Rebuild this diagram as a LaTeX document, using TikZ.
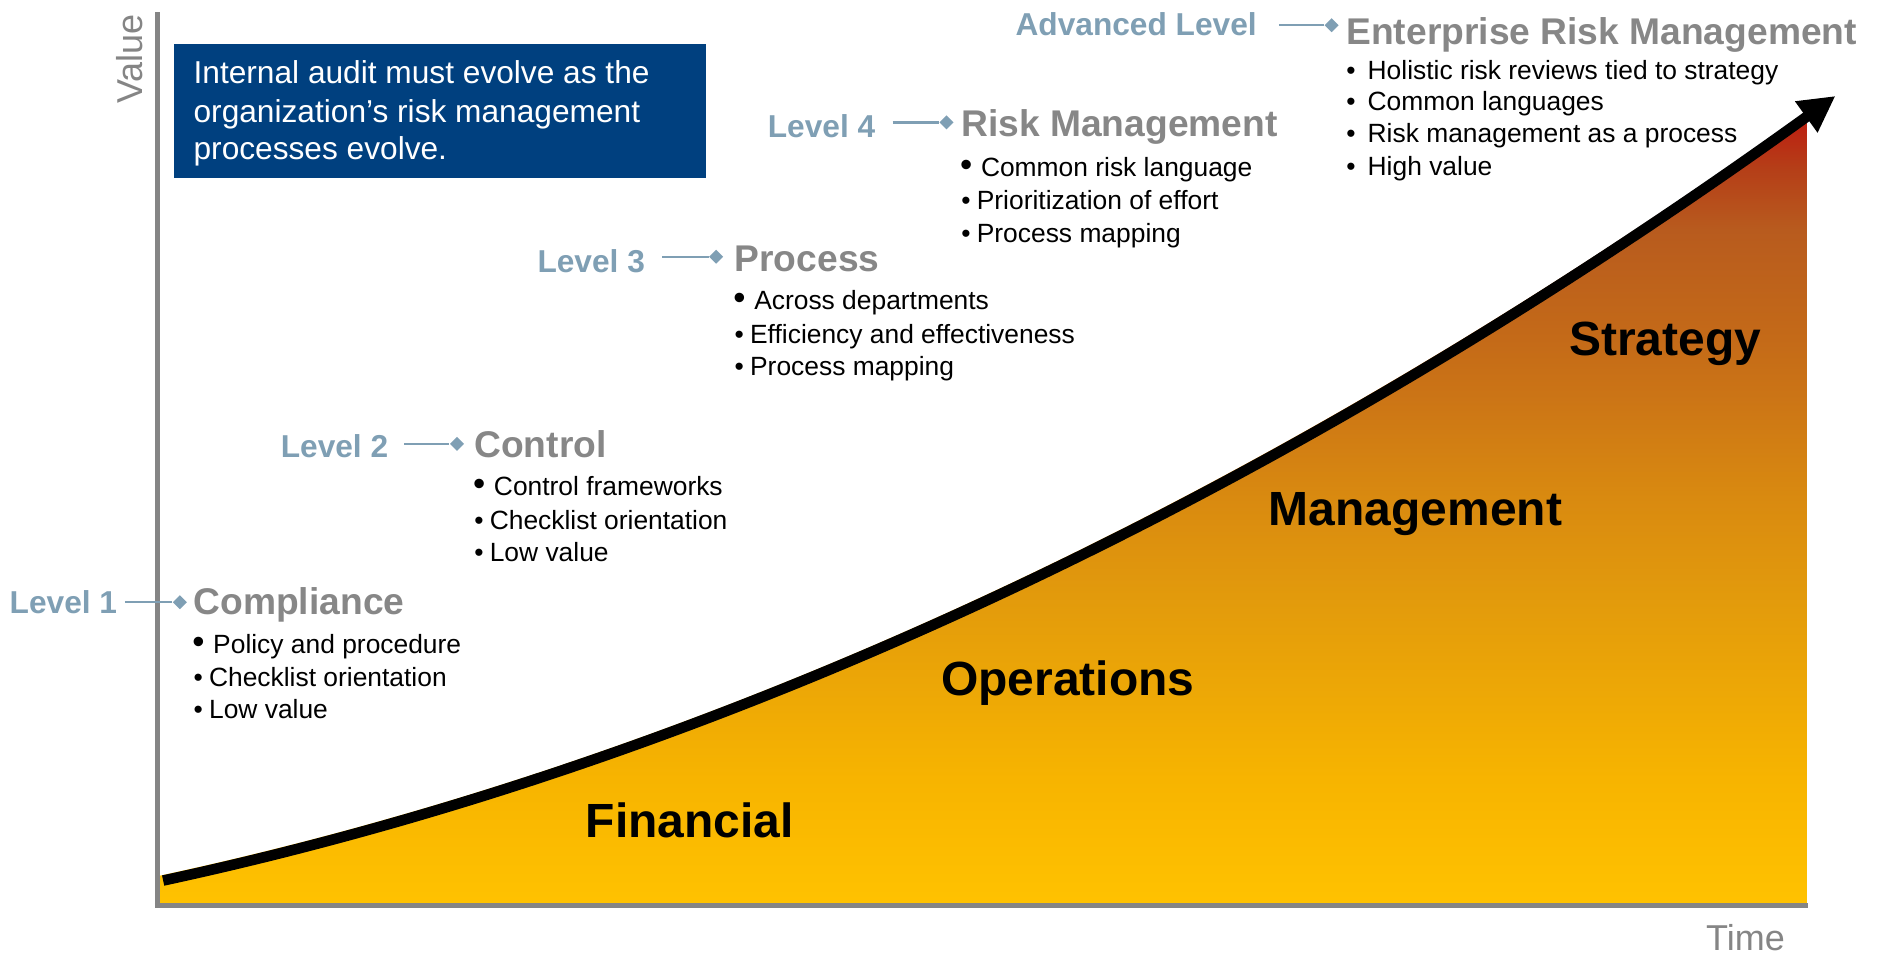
\documentclass[tikz,border=0pt]{standalone}
\usepackage{fontspec}
\setmainfont{Liberation Sans}
\usetikzlibrary{arrows.meta,shapes.geometric}
\definecolor{lvl}{HTML}{7F9FB4}
\definecolor{ttl}{HTML}{878787}
\definecolor{boxblue}{HTML}{00407F}
\definecolor{axisgray}{HTML}{858585}
\definecolor{cA}{HTML}{FFC200}
\definecolor{cB}{HTML}{F7B400}
\definecolor{cC}{HTML}{E29A0C}
\definecolor{cD}{HTML}{D98A10}
\definecolor{cE}{HTML}{CB7416}
\definecolor{cF}{HTML}{C46A18}
\definecolor{cG}{HTML}{B85B1E}
\definecolor{cH}{HTML}{B53E18}
\definecolor{cI}{HTML}{BB2512}
\definecolor{cJ}{HTML}{C41C0E}
\pgfdeclareverticalshading{riskshade}{100bp}{color(0bp)=(cA); color(25bp)=(cA); color(32.7bp)=(cB); color(44bp)=(cC); color(50bp)=(cD); color(56.4bp)=(cE); color(59.8bp)=(cF); color(66.5bp)=(cG); color(70.3bp)=(cH); color(72.6bp)=(cI); color(75bp)=(cJ); color(100bp)=(cJ)}
\newcommand{\bulbig}{{\fontsize{14.5}{14}\selectfont •}\hspace{3.6pt}}
\newcommand{\bulsmall}{•\hspace{2.6pt}}
\newcommand{\bulwide}{•\hspace{5pt}}
\tikzset{
  lvllabel/.style={anchor=base east, inner sep=0pt, text=lvl, font=\fontsize{13.2}{15}\selectfont\bfseries},
  lvltitle/.style={anchor=base west, inner sep=0pt, text=ttl, font=\fontsize{15.5}{17}\selectfont\bfseries},
  bullettext/.style={anchor=base west, inner sep=0pt, text=black, font=\fontsize{11}{13}\selectfont},
  boxtext/.style={anchor=base west, inner sep=0pt, text=white, font=\fontsize{13.2}{15}\selectfont},
  arealabel/.style={anchor=base, inner sep=0pt, text=black, font=\fontsize{20}{22}\selectfont\bfseries},
  axislabel/.style={inner sep=0pt, text=axisgray, font=\fontsize{15}{17}\selectfont},
  diam/.style={diamond, fill=lvl, inner sep=0pt, minimum size=6pt},
  lvlline/.style={draw=lvl, line width=1pt},
  axisline/.style={draw=axisgray, line width=2.2pt},
  curveline/.style={draw=black, line width=4.4pt, -{Triangle[length=15pt,width=15pt]}}
}
\begin{document}
\begin{tikzpicture}[x=0.5pt,y=-0.5pt]
\useasboundingbox (0,0) rectangle (1568,800);
% fill under the curve
\begin{scope}
\clip (133,0) rectangle (1506,754);
\shade[shading=riskshade] (133,730) .. controls (600,630) and (1065,411) .. (1530,76) -- (1530,754) -- (133,754) -- cycle;
\end{scope}
% axes
\draw[axisline] (131,10) -- (131,757);
\draw[axisline] (129,755) -- (1507,755);
\node[axislabel, rotate=90] (value) at (108,49) {Value};
\node[axislabel] (time) at (1455,782) {Time};
% curve
\draw[curveline] (136,734) .. controls (600,634) and (1065,415) .. (1530,80);
% area labels
\node[arealabel] (financial) at (575,698) {Financial};
\node[arealabel] (operations) at (890,580) {Operations};
\node[arealabel] (management) at (1180,438) {Management};
\node[arealabel] (strategy) at (1388,296) {Strategy};
% blue box
\node[fill=boxblue, anchor=north west, inner sep=0pt, minimum width=221.5pt, minimum height=56pt] (box) at (145,36) {};
\node[boxtext] (box1) at (161,70) {Internal audit must evolve as the};
\node[boxtext] (box2) at (161,102) {organization’s risk management};
\node[boxtext] (box3) at (161,133) {processes evolve.};
% Level 1
\node[lvllabel] (lev1) at (98,511) {Level 1};
\coordinate (c1) at (104,502);
\node[diam] (d1) at (150,502) {};
\draw[lvlline] (c1) -- (d1);
\node[lvltitle] (t1) at (161,512) {Compliance};
\node[bullettext] (b11) at (160,545) {\bulbig Policy and procedure};
\node[bullettext] (b12) at (161,572) {\bulsmall Checklist orientation};
\node[bullettext] (b13) at (161,599) {\bulsmall Low value};
% Level 2
\node[lvllabel] (lev2) at (324,381) {Level 2};
\coordinate (c2) at (337,370);
\node[diam] (d2) at (381,370) {};
\draw[lvlline] (c2) -- (d2);
\node[lvltitle] (t2) at (395,381) {Control};
\node[bullettext] (b21) at (394,413) {\bulbig Control frameworks};
\node[bullettext] (b22) at (395,441) {\bulsmall Checklist orientation};
\node[bullettext] (b23) at (395,468) {\bulsmall Low value};
% Level 3
\node[lvllabel] (lev3) at (538,227) {Level 3};
\coordinate (c3) at (552,214);
\node[diam] (d3) at (597,214) {};
\draw[lvlline] (c3) -- (d3);
\node[lvltitle] (t3) at (612,226) {Process};
\node[bullettext] (b31) at (611,258) {\bulbig Across departments};
\node[bullettext] (b32) at (612,286) {\bulsmall Efficiency and effectiveness};
\node[bullettext] (b33) at (612,313) {\bulsmall Process mapping};
% Level 4
\node[lvllabel] (lev4) at (730,115) {Level 4};
\coordinate (c4) at (744,102);
\node[diam] (d4) at (789,102) {};
\draw[lvlline] (c4) -- (d4);
\node[lvltitle] (t4) at (801,114) {Risk Management};
\node[bullettext] (b41) at (800,147) {\bulbig Common risk language};
\node[bullettext] (b42) at (801,175) {\bulsmall Prioritization of effort};
\node[bullettext] (b43) at (801,202) {\bulsmall Process mapping};
% Advanced level
\node[lvllabel] (lev5) at (1048,30) {Advanced Level};
\coordinate (c5) at (1066,21);
\node[diam] (d5) at (1110,21) {};
\draw[lvlline] (c5) -- (d5);
\node[lvltitle] (t5) at (1122,37) {Enterprise Risk Management};
\node[bullettext] (b51) at (1122,66) {\bulwide Holistic risk reviews tied to strategy};
\node[bullettext] (b52) at (1122,92) {\bulwide Common languages};
\node[bullettext] (b53) at (1122,119) {\bulwide Risk management as a process};
\node[bullettext] (b54) at (1122,146) {\bulwide High value};
\end{tikzpicture}
\end{document}
